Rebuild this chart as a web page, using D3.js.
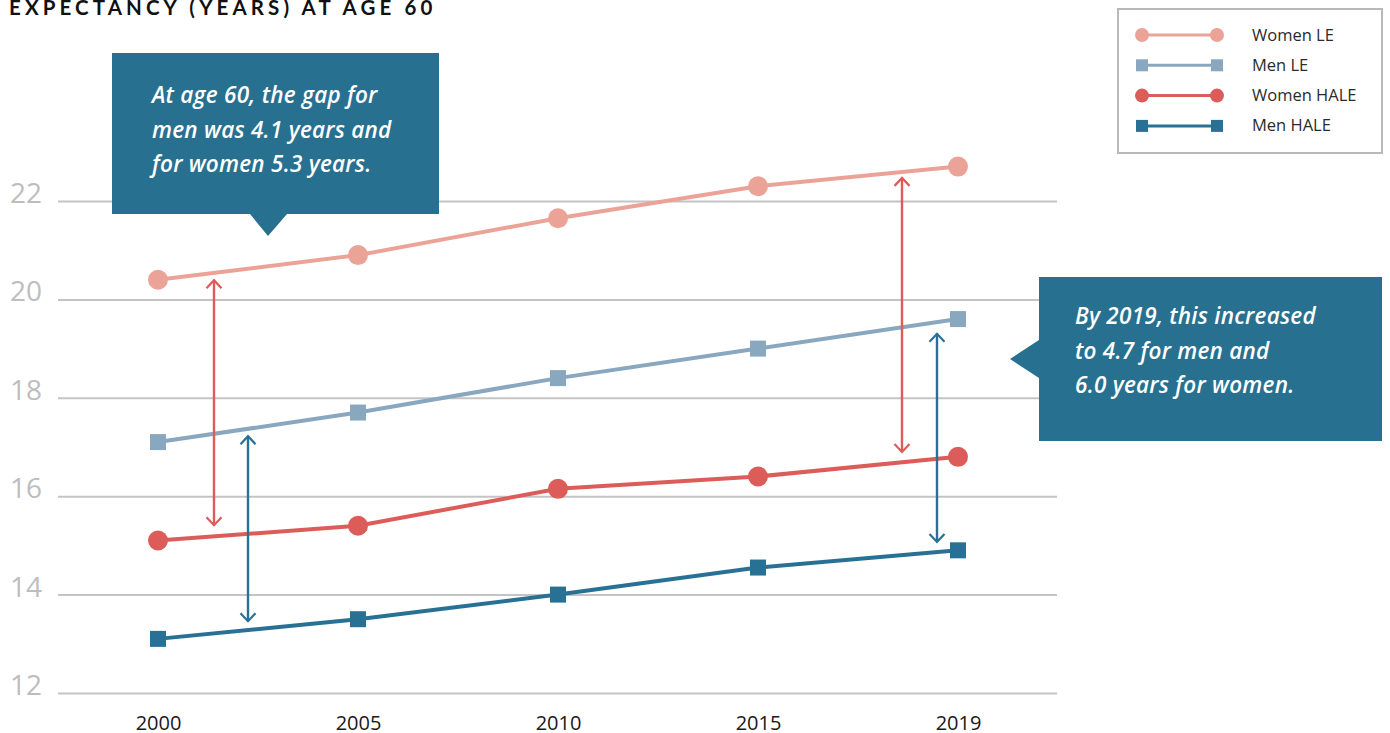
<!DOCTYPE html>
<html>
<head>
<meta charset="utf-8">
<script src="https://cdn.jsdelivr.net/npm/d3@7"></script>
<style>
  html, body { margin: 0; padding: 0; background: #fff; }
  svg { display: block; }
</style>
</head>
<body>
<svg id="chart" width="1390" height="733"></svg>
<script>
// Life expectancy (LE) and healthy life expectancy (HALE) at age 60
const years = ["2000", "2005", "2010", "2015", "2019"];
const womenLE   = [20.4, 20.9, 21.65, 22.3, 22.7];
const menLE     = [17.1, 17.7, 18.4, 19.0, 19.6];
const womenHALE = [15.1, 15.4, 16.15, 16.4, 16.8];
const menHALE   = [13.1, 13.5, 14.0, 14.55, 14.9];
const yTicks = [12, 14, 16, 18, 20, 22];

const seriesNames  = ["Women LE", "Men LE", "Women HALE", "Men HALE"];
const seriesColors = ["#eba398", "#8aa7c0", "#dc5c59", "#287195"];
const seriesShapes = ["circle", "square", "circle", "square"];

// Gap arrows: position along the year index, and the span they cover
const gapArrowPos   = [0.28, 0.45, 3.72, 3.895];
const gapArrowFrom  = [20.39, 17.22, 22.47, 19.30];
const gapArrowTo    = [15.41, 13.46, 16.90, 15.07];
const gapArrowColor = ["#dc5c59", "#287195", "#dc5c59", "#287195"];

const callout1 = ["At age 60, the gap for", "men was 4.1 years and", "for women 5.3 years."];
const callout2 = ["By 2019, this increased", "to 4.7 for men and", "6.0 years for women."];

const svg = d3.select("#chart");
const calloutFill = "#28708f";

const x = d3.scaleLinear().domain([0, years.length - 1]).range([158, 958]);
const y = d3.scaleLinear().domain([12, 22]).range([693, 201]);
const gridLeft = 58, gridRight = 1057;

// Title
svg.append("text")
  .attr("x", 9).attr("y", 15)
  .attr("font-family", "Lato, 'DejaVu Sans', sans-serif")
  .attr("font-weight", 700)
  .attr("font-size", 20.5)
  .attr("letter-spacing", 4.1)
  .attr("fill", "#111")
  .text("EXPECTANCY (YEARS) AT AGE 60");

// Horizontal gridlines + y labels
const yAxis = d3.axisLeft(y).tickValues(yTicks)
  .tickSize(-(gridRight - gridLeft)).tickPadding(16);
const gy = svg.append("g").attr("transform", `translate(${gridLeft},0)`).call(yAxis);
gy.select(".domain").remove();
gy.selectAll(".tick line").attr("stroke", "#c4c4c4").attr("stroke-width", 2);
gy.selectAll(".tick text")
  .attr("font-family", "'Open Sans', sans-serif")
  .attr("font-size", 28)
  .attr("fill", "#bdbdbd")
  .attr("dy", "0.05em")
  .attr("x", -16);

// X axis labels
const xAxis = d3.axisBottom(x).tickValues(d3.range(years.length))
  .tickFormat(i => years[i]).tickSize(0).tickPadding(0);
const gx = svg.append("g").attr("transform", "translate(0,716)").call(xAxis);
gx.select(".domain").remove();
gx.selectAll(".tick text")
  .attr("font-family", "'Open Sans', sans-serif")
  .attr("font-size", 20)
  .attr("fill", "#1a1a1a")
  .attr("dy", "0.72em");

// Series lines and markers
const allSeries = [womenLE, menLE, womenHALE, menHALE];
const line = d3.line().x((d, i) => x(i)).y(d => y(d));

function drawMarker(g, shape, cx, cy, color, r, s) {
  if (shape === "circle") {
    g.append("circle").attr("cx", cx).attr("cy", cy).attr("r", r).attr("fill", color);
  } else {
    g.append("rect").attr("x", cx - s / 2).attr("y", cy - s / 2)
      .attr("width", s).attr("height", s).attr("fill", color);
  }
}

allSeries.forEach((vals, k) => {
  const g = svg.append("g");
  g.append("path").datum(vals).attr("d", line)
    .attr("fill", "none").attr("stroke", seriesColors[k]).attr("stroke-width", 4);
  vals.forEach((v, i) => drawMarker(g, seriesShapes[k], x(i), y(v), seriesColors[k], 10, 16));
});

// Gap arrows (double-headed, open chevrons)
function chevron(g, cx, cy, dir, color) {
  const w = 7.5, h = 8;
  g.append("path")
    .attr("d", `M${cx - w},${cy + dir * h} L${cx},${cy} L${cx + w},${cy + dir * h}`)
    .attr("fill", "none").attr("stroke", color).attr("stroke-width", 2.2);
}
gapArrowPos.forEach((p, k) => {
  const g = svg.append("g");
  const ax = x(p), y1 = y(gapArrowFrom[k]), y2 = y(gapArrowTo[k]);
  g.append("line").attr("x1", ax).attr("x2", ax).attr("y1", y1 + 1).attr("y2", y2 - 1)
    .attr("stroke", gapArrowColor[k]).attr("stroke-width", 2.4);
  chevron(g, ax, y1, 1, gapArrowColor[k]);
  chevron(g, ax, y2, -1, gapArrowColor[k]);
});

// Callout boxes
function calloutText(g, lines, tx, ty) {
  const t = g.append("text")
    .attr("font-family", "'Open Sans', sans-serif")
    .attr("font-style", "italic").attr("font-weight", 600)
    .attr("font-size", 22.5).attr("letter-spacing", 0.25).attr("fill", "#ffffff");
  lines.forEach((s, i) => t.append("tspan").attr("x", tx).attr("y", ty + i * 34.5).text(s));
}
const c1 = svg.append("g");
c1.append("path")
  .attr("d", "M112,53 L439,53 L439,214 L287,214 L268,236 L250,214 L112,214 Z")
  .attr("fill", calloutFill);
calloutText(c1, callout1, 152, 103);

const c2 = svg.append("g");
c2.append("path")
  .attr("d", "M1039,277 L1382,277 L1382,441 L1039,441 L1039,378 L1010,359 L1039,340 Z")
  .attr("fill", calloutFill);
calloutText(c2, callout2, 1075, 324);

// Legend
const lg = svg.append("g");
lg.append("rect").attr("x", 1118).attr("y", 9).attr("width", 264).attr("height", 144)
  .attr("fill", "#fff").attr("stroke", "#b9b9b9").attr("stroke-width", 2);
seriesNames.forEach((name, k) => {
  const ly = 35 + k * 30.3;
  lg.append("line").attr("x1", 1142).attr("x2", 1217).attr("y1", ly).attr("y2", ly)
    .attr("stroke", seriesColors[k]).attr("stroke-width", 3);
  drawMarker(lg, seriesShapes[k], 1142, ly, seriesColors[k], 7, 12);
  drawMarker(lg, seriesShapes[k], 1217, ly, seriesColors[k], 7, 12);
  lg.append("text").attr("x", 1252).attr("y", ly + 5.5)
    .attr("font-family", "'Open Sans', sans-serif").attr("font-size", 16.5)
    .attr("fill", "#2b2b2b").text(name);
});
</script>
</body>
</html>
